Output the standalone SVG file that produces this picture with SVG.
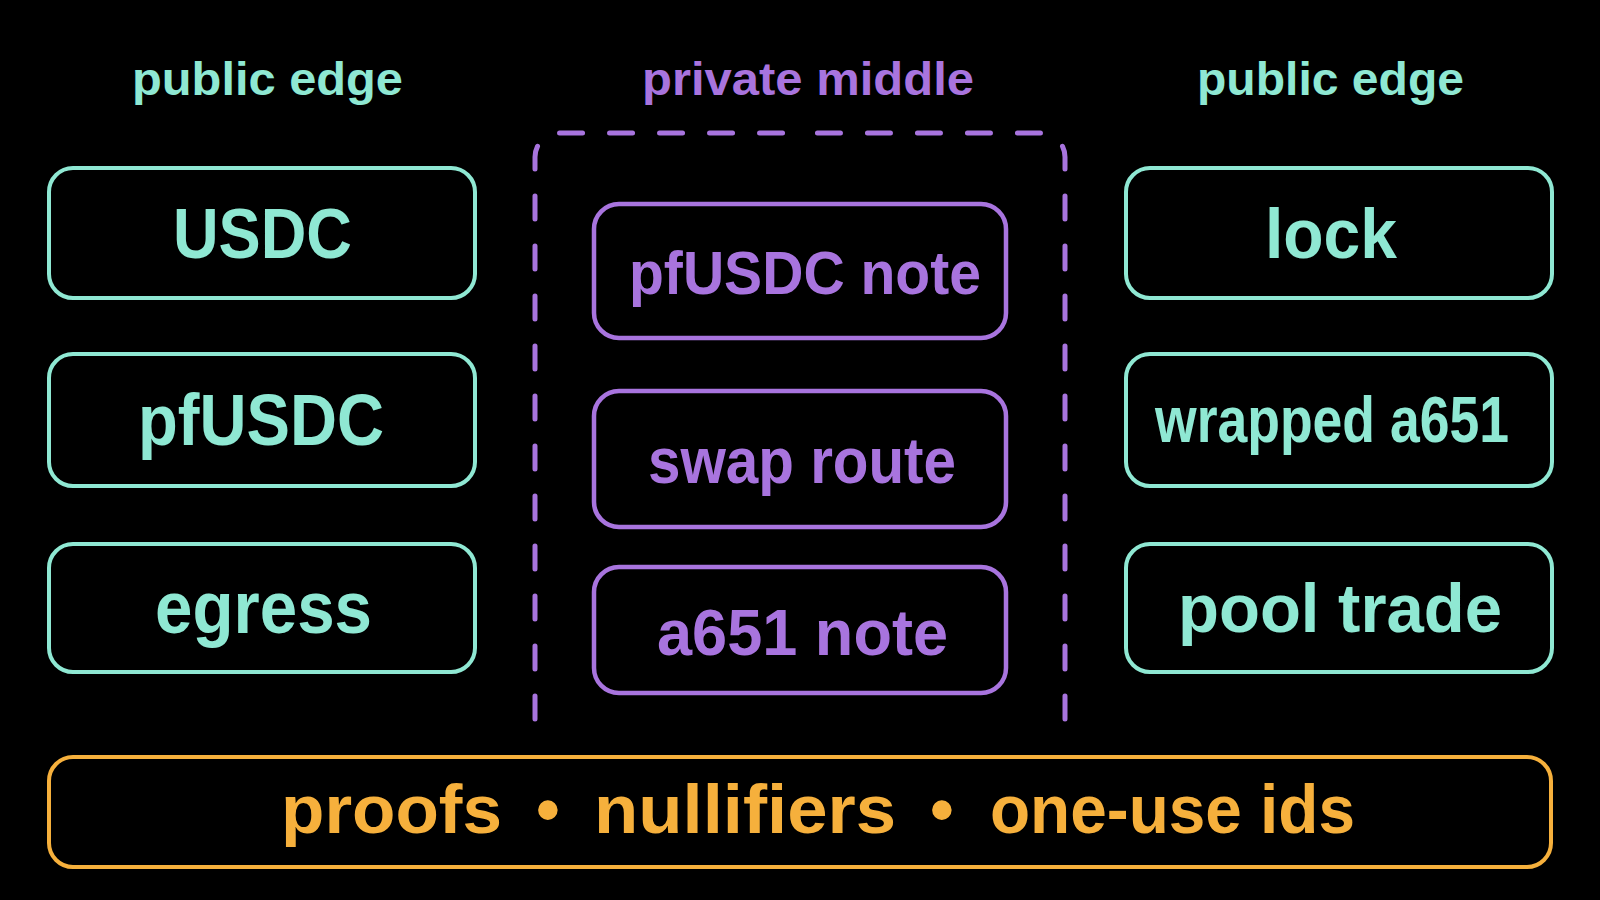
<svg xmlns="http://www.w3.org/2000/svg" width="1600" height="900" viewBox="0 0 1600 900">
<style>
text{font-family:"Liberation Sans",Arial,Helvetica,sans-serif;font-weight:bold}
.teal{fill:#8FE8D3}
.purple{fill:#A874DE}
.orange{fill:#F6B03C}
.tbox{fill:none;stroke:#8FE8D3;stroke-width:4}
.pbox{fill:none;stroke:#A874DE;stroke-width:4.5}
.obox{fill:none;stroke:#F6B03C;stroke-width:4}
.dash{fill:none;stroke:#A874DE;stroke-width:5;stroke-dasharray:23 27;stroke-linecap:round}
</style>
<rect x="0" y="0" width="1600" height="900" fill="#000"/>

<g id="titles">
<text class="teal" x="132" y="95" font-size="47" textLength="271" lengthAdjust="spacingAndGlyphs">public edge</text>
<text class="purple" x="642" y="95" font-size="47" textLength="332" lengthAdjust="spacingAndGlyphs">private middle</text>
<text class="teal" x="1197" y="95" font-size="47" textLength="267" lengthAdjust="spacingAndGlyphs">public edge</text>
</g>

<g id="private-middle-zone">
<path class="dash" d="M535,719 V157 A24,24 0 0 1 559,133 H800"/>
<path class="dash" d="M1065,719 V157 A24,24 0 0 0 1041,133 H800"/>
</g>

<g id="connectors"/>

<g id="node-usdc">
<rect class="tbox" x="49" y="168" width="426" height="130" rx="24"/>
<text class="teal" x="173" y="258" font-size="70" textLength="179" lengthAdjust="spacingAndGlyphs">USDC</text>
</g>
<g id="node-pfusdc">
<rect class="tbox" x="49" y="354" width="426" height="132" rx="24"/>
<text class="teal" x="138" y="445" font-size="72" textLength="246" lengthAdjust="spacingAndGlyphs">pfUSDC</text>
</g>
<g id="node-egress">
<rect class="tbox" x="49" y="544" width="426" height="128" rx="24"/>
<text class="teal" x="155" y="633" font-size="74" textLength="217" lengthAdjust="spacingAndGlyphs">egress</text>
</g>

<g id="node-pfusdc-note">
<rect class="pbox" x="594" y="204" width="412" height="134" rx="25"/>
<text class="purple" x="629" y="294" font-size="61" textLength="352" lengthAdjust="spacingAndGlyphs">pfUSDC note</text>
</g>
<g id="node-swap-route">
<rect class="pbox" x="594" y="391" width="412" height="136" rx="25"/>
<text class="purple" x="648" y="483" font-size="64" textLength="308" lengthAdjust="spacingAndGlyphs">swap route</text>
</g>
<g id="node-a651-note">
<rect class="pbox" x="594" y="567" width="412" height="126" rx="25"/>
<text class="purple" x="657" y="655" font-size="64" textLength="291" lengthAdjust="spacingAndGlyphs">a651 note</text>
</g>

<g id="node-lock">
<rect class="tbox" x="1126" y="168" width="426" height="130" rx="24"/>
<text class="teal" x="1265" y="258" font-size="70" textLength="132" lengthAdjust="spacingAndGlyphs">lock</text>
</g>
<g id="node-wrapped-a651">
<rect class="tbox" x="1126" y="354" width="426" height="132" rx="24"/>
<text class="teal" x="1155" y="442" font-size="64" textLength="354" lengthAdjust="spacingAndGlyphs">wrapped a651</text>
</g>
<g id="node-pool-trade">
<rect class="tbox" x="1126" y="544" width="426" height="128" rx="24"/>
<text class="teal" x="1178" y="632" font-size="69" textLength="324" lengthAdjust="spacingAndGlyphs">pool trade</text>
</g>

<g id="node-foundation">
<rect class="obox" x="49" y="757" width="1502" height="110" rx="24"/>
<text class="orange" x="281" y="833" font-size="68" textLength="221" lengthAdjust="spacingAndGlyphs">proofs</text>
<text class="orange" x="548" y="833" font-size="68" text-anchor="middle">•</text>
<text class="orange" x="594" y="833" font-size="68" textLength="302" lengthAdjust="spacingAndGlyphs">nullifiers</text>
<text class="orange" x="942" y="833" font-size="68" text-anchor="middle">•</text>
<text class="orange" x="990" y="833" font-size="68" textLength="365" lengthAdjust="spacingAndGlyphs">one-use ids</text>
</g>
</svg>
